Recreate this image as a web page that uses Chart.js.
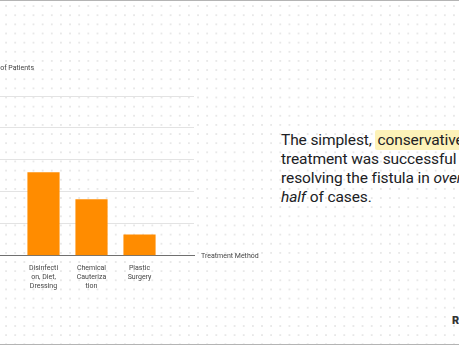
<!DOCTYPE html>
<html>
<head>
<meta charset="utf-8">
<script src="https://cdn.jsdelivr.net/npm/chart.js@4.4.0/dist/chart.umd.min.js"></script>
<style>
    html, body {
        margin: 0;
        padding: 0;
    }
    body {
        width: 459px;
        height: 345px;
        position: relative;
        overflow: hidden;
        background-color: #fff;
        background-image: radial-gradient(circle, #e8e8e8 0.7px, transparent 1.2px);
        background-size: 9.15px 9.15px;
        background-position: 1.5px 1.5px;
    }
    .edge {
        position: absolute;
        left: 0;
        width: 459px;
        height: 1px;
        background: #b4b4b4;
    }
    #chart-box {
        position: absolute;
        left: 0;
        top: 0;
        width: 280px;
        height: 300px;
    }
    .note {
        position: absolute;
        left: 281px;
        top: 131px;
        font-family: Roboto, "Noto Sans", sans-serif;
        font-size: 15.5px;
        letter-spacing: -0.1px;
        line-height: 19px;
        color: #202124;
        white-space: nowrap;
    }
    .note mark {
        background: #fdf2b8;
        color: inherit;
        padding: 1px 2px;
        border-radius: 2px;
    }
    .logo {
        position: absolute;
        left: 452px;
        top: 314px;
        font-family: Roboto, sans-serif;
        font-weight: 900;
        font-size: 11px;
        color: #333;
    }
</style>
</head>
<body>
<div class="edge" style="top:0"></div>
<div class="edge" style="top:344px"></div>
<div id="chart-box"><canvas id="treatmentChart"></canvas></div>
<div class="note">
    The simplest, <mark>conservative</mark><br>
    treatment was successful in<br>
    resolving the fistula in <i>over</i><br>
    <i>half</i> of cases.
</div>
<div class="logo">R</div>

<script>
// dati del grafico
const categories = [
    ['Disinfecti', 'on, Diet,', 'Dressing'],
    ['Chemical', 'Cauteriza', 'tion'],
    ['Plastic', 'Surgery']
];
const patientShare = [52, 35, 13];
const yTicks = [0, 20, 40, 60, 80, 100];

const axisFont = { family: 'Roboto, sans-serif', size: 7, lineHeight: 1.3 };

// titoli degli assi disegnati accanto all'area del grafico
const axisTitles = {
    id: 'axisTitles',
    afterDraw(chart) {
        const { ctx, chartArea } = chart;
        ctx.save();
        ctx.font = '7px Roboto, sans-serif';
        ctx.fillStyle = '#444';
        ctx.textBaseline = 'middle';
        ctx.textAlign = 'left';
        ctx.fillText('Treatment Method', chartArea.right + 7, chartArea.bottom + 0.5);
        ctx.textAlign = 'right';
        ctx.fillText('Number of Patients', chartArea.left + 34, chartArea.top - 28);
        ctx.restore();
    }
};

document.addEventListener('DOMContentLoaded', function() {
    const ctx = document.getElementById('treatmentChart').getContext('2d');
    new Chart(ctx, {
        type: 'bar',
        data: {
            datasets: [{
                data: patientShare.map((v, i) => ({ x: i + 1, y: v })),
                backgroundColor: '#ff8c00',
                barThickness: 31.5
            }]
        },
        options: {
            responsive: true,
            maintainAspectRatio: false,
            animation: false,
            layout: { padding: { top: 96, right: 86, left: 0, bottom: 0 } },
            plugins: {
                legend: { display: false },
                tooltip: { enabled: false }
            },
            scales: {
                x: {
                    type: 'linear',
                    offset: false,
                    min: 0.094,
                    max: 4.135,
                    afterBuildTicks: scale => {
                        scale.ticks = categories.map((c, i) => ({ value: i + 1 }));
                    },
                    afterFit: scale => { scale.height = 44.5; },
                    grid: { display: false, drawTicks: false, offset: false },
                    border: { display: true, color: '#707070', width: 1 },
                    ticks: {
                        padding: 8,
                        color: '#444',
                        font: axisFont,
                        maxRotation: 0,
                        autoSkip: false,
                        callback: v => categories[v - 1] || ''
                    }
                },
                y: {
                    min: yTicks[0],
                    max: yTicks[yTicks.length - 1],
                    afterBuildTicks: scale => {
                        scale.ticks = yTicks.map(v => ({ value: v }));
                    },
                    afterFit: scale => { scale.width = 0; },
                    grid: { color: '#e3e3e3', drawTicks: false },
                    border: { display: false },
                    ticks: { display: false }
                }
            }
        },
        plugins: [axisTitles]
    });
});
</script>
</body>
</html>
